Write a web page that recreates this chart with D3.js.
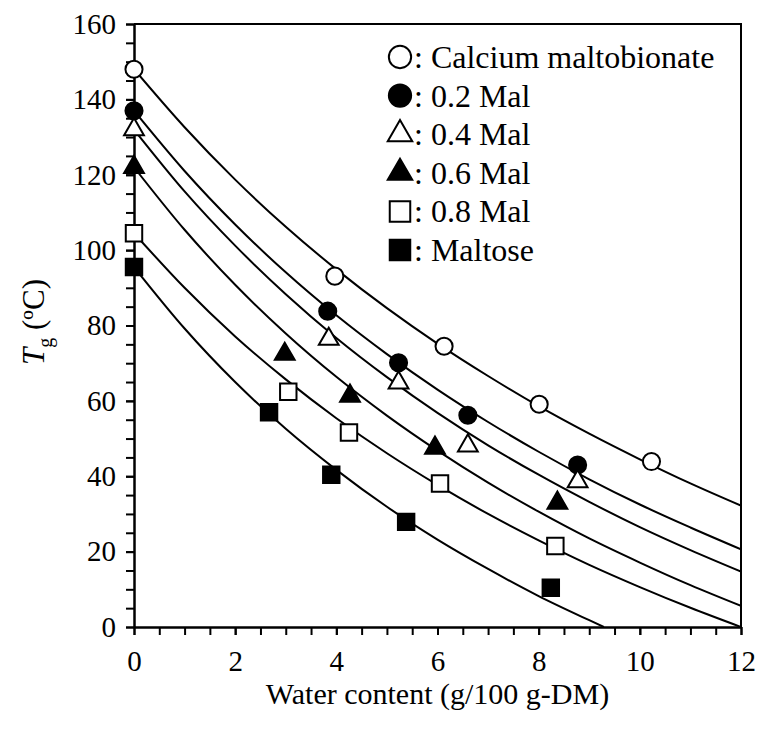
<!DOCTYPE html>
<html>
<head>
<meta charset="utf-8">
<script src="https://cdn.jsdelivr.net/npm/d3@7"></script>
<style>
  html, body { margin: 0; padding: 0; background: #fff; }
</style>
</head>
<body>
<script>
// ---- Data ----
const seriesNames = ["Calcium maltobionate", "0.2 Mal", "0.4 Mal", "0.6 Mal", "0.8 Mal", "Maltose"];

// measured points: water content (g/100 g-DM) and Tg (ºC)
const waterCM   = [0, 3.97, 6.13, 8.01, 10.23];
const tgCM      = [148, 93.1, 74.5, 59.1, 43.9];
const water02   = [0, 3.83, 5.23, 6.60, 8.77];
const tg02      = [137, 83.8, 70.1, 56.2, 43.0];
const water04   = [0, 3.85, 5.23, 6.60, 8.77];
const tg04      = [132, 76.4, 64.8, 48.1, 38.6];
const water06   = [0, 2.98, 4.27, 5.95, 8.37];
const tg06      = [122, 72.4, 61.3, 47.5, 32.9];
const water08   = [0, 3.05, 4.25, 6.05, 8.33];
const tg08      = [104.5, 62.4, 51.6, 38.1, 21.5];
const waterMal  = [0, 2.67, 3.90, 5.38, 8.24];
const tgMal     = [95.5, 57.0, 40.4, 27.9, 10.4];

// fitted curves
const curveX      = [0, 1, 2, 3, 4, 5, 6, 7, 8, 9, 10, 11, 12];
const curveCM     = [148, 132.6, 118.7, 106.2, 94.9, 84.6, 75.2, 66.6, 58.6, 51.3, 44.5, 38.1, 32.2];
const curve02     = [137, 121.0, 106.8, 94.1, 82.7, 72.4, 63.0, 54.4, 46.5, 39.2, 32.5, 26.4, 20.6];
const curve04     = [132, 115.6, 101.2, 88.3, 76.7, 66.3, 56.8, 48.2, 40.4, 33.2, 26.5, 20.4, 14.7];
const curve06     = [122, 105.4, 90.8, 77.9, 66.4, 56.1, 46.8, 38.3, 30.6, 23.5, 17.1, 11.1, 5.6];
const curve08     = [104.5, 90.0, 77.1, 65.7, 55.4, 46.1, 37.7, 30.0, 23.0, 16.5, 10.6, 5.1, 0];
const curveMalX   = [0, 1, 2, 3, 4, 5, 6, 7, 8, 9, 9.29];
const curveMal    = [95.5, 79.2, 65.0, 52.6, 41.7, 31.9, 23.2, 15.4, 8.2, 1.8, 0];

const xTicks = [0, 2, 4, 6, 8, 10, 12];
const yTicks = [0, 20, 40, 60, 80, 100, 120, 140, 160];
const xTitle = "Water content (g/100 g-DM)";

// ---- Styles per series ----
const markerShape = [d3.symbolCircle, d3.symbolCircle, d3.symbolTriangle, d3.symbolTriangle, d3.symbolSquare, d3.symbolSquare];
const markerFill  = ["#fff", "#000", "#fff", "#000", "#fff", "#000"];
const markerSize  = [230, 230, 170, 170, 270, 270];
const legendSize  = [390, 390, 260, 260, 420, 420];

const series = [
  {pw: waterCM,  pt: tgCM,  cx: curveX,    cy: curveCM},
  {pw: water02,  pt: tg02,  cx: curveX,    cy: curve02},
  {pw: water04,  pt: tg04,  cx: curveX,    cy: curve04},
  {pw: water06,  pt: tg06,  cx: curveX,    cy: curve06},
  {pw: water08,  pt: tg08,  cx: curveX,    cy: curve08},
  {pw: waterMal, pt: tgMal, cx: curveMalX, cy: curveMal}
];

const FONT = "Liberation Serif";
const W = 762, H = 740;
const pLeft = 134, pRight = 741, pTop = 24, pBottom = 627;

const svg = d3.select("body").append("svg").attr("width", W).attr("height", H)
  .attr("font-family", FONT);

const x = d3.scaleLinear().domain([0, 12]).range([pLeft, pRight]);
const y = d3.scaleLinear().domain([0, 160]).range([pBottom, pTop]);

svg.append("clipPath").attr("id", "clip")
  .append("rect").attr("x", pLeft).attr("y", pTop).attr("width", pRight - pLeft).attr("height", pBottom - pTop);

// frame (top and right)
svg.append("path")
  .attr("d", `M${pLeft},${pTop}H${pRight}V${pBottom}`)
  .attr("fill", "none").attr("stroke", "#000").attr("stroke-width", 2);

// minor ticks
const xMinor = d3.range(0, 12.001, 0.5);
const yMinor = d3.range(0, 160.001, 5);
svg.append("g").attr("transform", `translate(0,${pBottom})`)
  .call(d3.axisBottom(x).tickValues(xMinor).tickSize(8).tickFormat(""))
  .call(g => g.select(".domain").remove())
  .selectAll("line").attr("stroke-width", 2);
svg.append("g").attr("transform", `translate(${pLeft},0)`)
  .call(d3.axisLeft(y).tickValues(yMinor).tickSize(8).tickFormat(""))
  .call(g => g.select(".domain").remove())
  .selectAll("line").attr("stroke-width", 2);

// major axes
const gx = svg.append("g").attr("transform", `translate(0,${pBottom})`)
  .call(d3.axisBottom(x).tickValues(xTicks).tickSize(8).tickPadding(15).tickSizeOuter(0).tickFormat(d3.format("d")));
gx.attr("font-family", FONT).attr("font-size", 29);
gx.select(".domain").attr("stroke-width", 2.5);
gx.selectAll("line").attr("stroke-width", 2);
gx.selectAll("text").attr("font-family", FONT).attr("font-size", 29).attr("fill", "#000");

const gy = svg.append("g").attr("transform", `translate(${pLeft},0)`)
  .call(d3.axisLeft(y).tickValues(yTicks).tickSize(8).tickPadding(10).tickSizeOuter(0).tickFormat(d3.format("d")));
gy.attr("font-family", FONT).attr("font-size", 29);
gy.select(".domain").attr("stroke-width", 2.5);
gy.selectAll("line").attr("stroke-width", 2);
gy.selectAll("text").attr("font-family", FONT).attr("font-size", 29).attr("fill", "#000");

// curves
const line = d3.line().x(d => x(d[0])).y(d => y(d[1])).curve(d3.curveMonotoneX);
const curveG = svg.append("g").attr("clip-path", "url(#clip)");
series.forEach(s => {
  curveG.append("path")
    .attr("d", line(s.cx.map((v, i) => [v, s.cy[i]])))
    .attr("fill", "none").attr("stroke", "#000").attr("stroke-width", 2);
});

// markers
series.forEach((s, k) => {
  const sym = d3.symbol().type(markerShape[k]).size(markerSize[k]);
  svg.append("g").selectAll("path").data(s.pw.map((v, i) => [v, s.pt[i]])).join("path")
    .attr("transform", d => `translate(${x(d[0])},${y(d[1])})`)
    .attr("d", sym)
    .attr("fill", markerFill[k]).attr("stroke", "#000").attr("stroke-width", 2);
});

// legend
const legG = svg.append("g");
seriesNames.forEach((name, k) => {
  const cy = 57 + k * 38.6;
  legG.append("path")
    .attr("transform", `translate(400,${cy})`)
    .attr("d", d3.symbol().type(markerShape[k]).size(legendSize[k])())
    .attr("fill", markerFill[k]).attr("stroke", "#000").attr("stroke-width", 2);
  legG.append("text")
    .attr("x", 414).attr("y", cy + 11)
    .attr("font-family", FONT).attr("font-size", 32).attr("fill", "#000")
    .text(": " + name);
});

// x title
svg.append("text")
  .attr("x", (pLeft + pRight) / 2).attr("y", 704)
  .attr("text-anchor", "middle")
  .attr("font-family", FONT).attr("font-size", 30).attr("fill", "#000")
  .text(xTitle);

// y title
const yt = svg.append("text")
  .attr("transform", `translate(44,322) rotate(-90)`)
  .attr("text-anchor", "middle")
  .attr("font-family", FONT).attr("font-size", 31).attr("fill", "#000");
yt.append("tspan").attr("font-style", "italic").text("T");
yt.append("tspan").attr("dy", 8).attr("font-size", 20).text("g");
yt.append("tspan").attr("dy", -8).text(" (ºC)");
</script>
</body>
</html>
